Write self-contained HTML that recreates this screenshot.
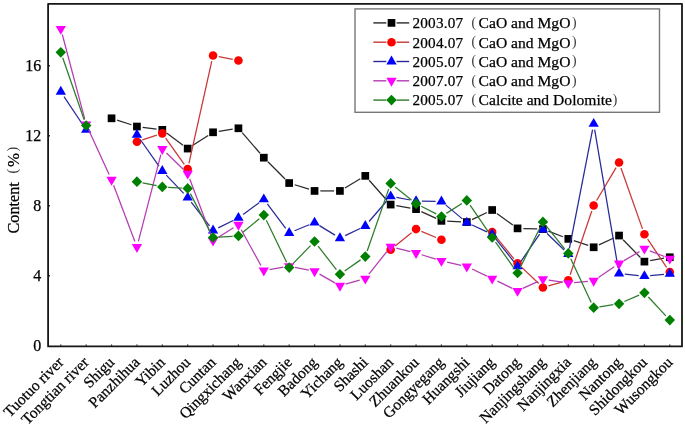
<!DOCTYPE html>
<html><head><meta charset="utf-8"><style>
html,body{margin:0;padding:0;background:#fff;}
body{width:685px;height:427px;overflow:hidden;}
svg{display:block;will-change:transform;}
text{font-family:"Liberation Serif",serif;fill:#000;stroke:#000;stroke-width:0.25px;}
text.p{stroke:none;fill:#333;}
</style></head><body>
<svg width="685" height="427" viewBox="0 0 685 427">
<rect x="0" y="0" width="685" height="427" fill="#fff"/>
<g font-size="16">
<text x="41.2" y="350.70" text-anchor="end">0</text>
<text x="41.2" y="280.70" text-anchor="end">4</text>
<text x="41.2" y="210.70" text-anchor="end">8</text>
<text x="41.2" y="140.70" text-anchor="end">12</text>
<text x="41.2" y="70.70" text-anchor="end">16</text>
</g>
<g transform="translate(19.3,233.5) rotate(-90)"><text x="0" y="0" font-size="16.2">Content</text><text x="59.9" y="-2.4" font-size="14" class="p">(</text><text x="66.6" y="0" font-size="16.8">%</text><text x="81.9" y="-2.4" font-size="14" class="p">)</text></g>
<g font-size="15.5">
<text transform="translate(64.40,363.2) rotate(-45)" text-anchor="end">Tuotuo river</text>
<text transform="translate(89.77,363.2) rotate(-45)" text-anchor="end">Tongtian river</text>
<text transform="translate(115.15,363.2) rotate(-45)" text-anchor="end">Shigu</text>
<text transform="translate(140.53,363.2) rotate(-45)" text-anchor="end">Panzhihua</text>
<text transform="translate(165.90,363.2) rotate(-45)" text-anchor="end">Yibin</text>
<text transform="translate(191.28,363.2) rotate(-45)" text-anchor="end">Luzhou</text>
<text transform="translate(216.65,363.2) rotate(-45)" text-anchor="end">Cuntan</text>
<text transform="translate(242.03,363.2) rotate(-45)" text-anchor="end">Qingxichang</text>
<text transform="translate(267.40,363.2) rotate(-45)" text-anchor="end">Wanxian</text>
<text transform="translate(292.78,363.2) rotate(-45)" text-anchor="end">Fengjie</text>
<text transform="translate(318.15,363.2) rotate(-45)" text-anchor="end">Badong</text>
<text transform="translate(343.53,363.2) rotate(-45)" text-anchor="end">Yichang</text>
<text transform="translate(368.90,363.2) rotate(-45)" text-anchor="end">Shashi</text>
<text transform="translate(394.28,363.2) rotate(-45)" text-anchor="end">Luoshan</text>
<text transform="translate(419.65,363.2) rotate(-45)" text-anchor="end">Zhuankou</text>
<text transform="translate(445.03,363.2) rotate(-45)" text-anchor="end">Gongyegang</text>
<text transform="translate(470.40,363.2) rotate(-45)" text-anchor="end">Huangshi</text>
<text transform="translate(495.78,363.2) rotate(-45)" text-anchor="end">Jiujiang</text>
<text transform="translate(521.15,363.2) rotate(-45)" text-anchor="end">Datong</text>
<text transform="translate(546.52,363.2) rotate(-45)" text-anchor="end">Nanjingshang</text>
<text transform="translate(571.90,363.2) rotate(-45)" text-anchor="end">Nanjingxia</text>
<text transform="translate(597.27,363.2) rotate(-45)" text-anchor="end">Zhenjiang</text>
<text transform="translate(622.65,363.2) rotate(-45)" text-anchor="end">Nantong</text>
<text transform="translate(648.02,363.2) rotate(-45)" text-anchor="end">Shidongkou</text>
<text transform="translate(673.40,363.2) rotate(-45)" text-anchor="end">Wusongkou</text>
</g>
<g>
<line x1="117.07" y1="120.09" x2="131.41" y2="124.74" stroke="#2a2a2a" stroke-width="1.25"/>
<line x1="142.68" y1="127.28" x2="156.55" y2="129.10" stroke="#2a2a2a" stroke-width="1.25"/>
<line x1="166.97" y1="133.29" x2="183.01" y2="145.13" stroke="#2a2a2a" stroke-width="1.25"/>
<line x1="192.56" y1="145.44" x2="208.17" y2="135.43" stroke="#2a2a2a" stroke-width="1.25"/>
<line x1="218.78" y1="131.39" x2="232.70" y2="129.18" stroke="#2a2a2a" stroke-width="1.25"/>
<line x1="242.21" y1="132.67" x2="260.01" y2="153.28" stroke="#2a2a2a" stroke-width="1.25"/>
<line x1="267.90" y1="161.78" x2="285.07" y2="178.95" stroke="#2a2a2a" stroke-width="1.25"/>
<line x1="294.71" y1="184.77" x2="309.01" y2="189.21" stroke="#2a2a2a" stroke-width="1.25"/>
<line x1="320.35" y1="190.93" x2="334.12" y2="190.93" stroke="#2a2a2a" stroke-width="1.25"/>
<line x1="344.91" y1="187.97" x2="360.31" y2="178.83" stroke="#2a2a2a" stroke-width="1.25"/>
<line x1="369.14" y1="180.22" x2="386.83" y2="200.23" stroke="#2a2a2a" stroke-width="1.25"/>
<line x1="396.38" y1="205.60" x2="410.34" y2="208.10" stroke="#2a2a2a" stroke-width="1.25"/>
<line x1="421.32" y1="211.56" x2="436.16" y2="218.42" stroke="#2a2a2a" stroke-width="1.25"/>
<line x1="447.22" y1="221.13" x2="461.01" y2="221.80" stroke="#2a2a2a" stroke-width="1.25"/>
<line x1="472.04" y1="219.58" x2="486.94" y2="212.49" stroke="#2a2a2a" stroke-width="1.25"/>
<line x1="496.87" y1="213.40" x2="512.85" y2="224.97" stroke="#2a2a2a" stroke-width="1.25"/>
<line x1="523.35" y1="228.53" x2="537.13" y2="228.92" stroke="#2a2a2a" stroke-width="1.25"/>
<line x1="548.34" y1="231.16" x2="562.89" y2="236.79" stroke="#2a2a2a" stroke-width="1.25"/>
<line x1="573.81" y1="240.70" x2="588.17" y2="245.45" stroke="#2a2a2a" stroke-width="1.25"/>
<line x1="598.94" y1="244.84" x2="613.78" y2="237.98" stroke="#2a2a2a" stroke-width="1.25"/>
<line x1="623.10" y1="239.71" x2="640.38" y2="257.47" stroke="#2a2a2a" stroke-width="1.25"/>
<line x1="650.14" y1="260.64" x2="664.08" y2="258.24" stroke="#2a2a2a" stroke-width="1.25"/>
<rect x="107.70" y="114.45" width="7.7" height="7.7" fill="#000000"/>
<rect x="133.08" y="122.68" width="7.7" height="7.7" fill="#000000"/>
<rect x="158.45" y="126.00" width="7.7" height="7.7" fill="#000000"/>
<rect x="183.83" y="144.73" width="7.7" height="7.7" fill="#000000"/>
<rect x="209.20" y="128.45" width="7.7" height="7.7" fill="#000000"/>
<rect x="234.58" y="124.43" width="7.7" height="7.7" fill="#000000"/>
<rect x="259.95" y="153.83" width="7.7" height="7.7" fill="#000000"/>
<rect x="285.32" y="179.20" width="7.7" height="7.7" fill="#000000"/>
<rect x="310.70" y="187.08" width="7.7" height="7.7" fill="#000000"/>
<rect x="336.07" y="187.08" width="7.7" height="7.7" fill="#000000"/>
<rect x="361.45" y="172.03" width="7.7" height="7.7" fill="#000000"/>
<rect x="386.82" y="200.73" width="7.7" height="7.7" fill="#000000"/>
<rect x="412.20" y="205.28" width="7.7" height="7.7" fill="#000000"/>
<rect x="437.57" y="217.00" width="7.7" height="7.7" fill="#000000"/>
<rect x="462.95" y="218.22" width="7.7" height="7.7" fill="#000000"/>
<rect x="488.32" y="206.15" width="7.7" height="7.7" fill="#000000"/>
<rect x="513.70" y="224.53" width="7.7" height="7.7" fill="#000000"/>
<rect x="539.07" y="225.23" width="7.7" height="7.7" fill="#000000"/>
<rect x="564.45" y="235.03" width="7.7" height="7.7" fill="#000000"/>
<rect x="589.82" y="243.43" width="7.7" height="7.7" fill="#000000"/>
<rect x="615.20" y="231.70" width="7.7" height="7.7" fill="#000000"/>
<rect x="640.57" y="257.77" width="7.7" height="7.7" fill="#000000"/>
<rect x="665.95" y="253.40" width="7.7" height="7.7" fill="#000000"/>
<line x1="142.43" y1="139.93" x2="156.79" y2="135.17" stroke="#c83636" stroke-width="1.25"/>
<line x1="165.66" y1="138.08" x2="184.31" y2="164.32" stroke="#c83636" stroke-width="1.25"/>
<line x1="188.94" y1="163.39" x2="211.79" y2="61.14" stroke="#c83636" stroke-width="1.25"/>
<line x1="218.74" y1="56.61" x2="232.74" y2="59.41" stroke="#c83636" stroke-width="1.25"/>
<line x1="395.17" y1="246.06" x2="411.55" y2="232.74" stroke="#c83636" stroke-width="1.25"/>
<line x1="421.40" y1="231.32" x2="436.08" y2="237.50" stroke="#c83636" stroke-width="1.25"/>
<line x1="495.83" y1="236.56" x2="513.90" y2="258.87" stroke="#c83636" stroke-width="1.25"/>
<line x1="521.75" y1="267.37" x2="538.72" y2="283.53" stroke="#c83636" stroke-width="1.25"/>
<line x1="548.50" y1="285.91" x2="562.73" y2="281.79" stroke="#c83636" stroke-width="1.25"/>
<line x1="570.16" y1="274.68" x2="591.81" y2="210.94" stroke="#c83636" stroke-width="1.25"/>
<line x1="596.63" y1="200.46" x2="616.10" y2="167.57" stroke="#c83636" stroke-width="1.25"/>
<line x1="620.98" y1="168.04" x2="642.49" y2="228.86" stroke="#c83636" stroke-width="1.25"/>
<line x1="647.66" y1="239.14" x2="666.57" y2="267.31" stroke="#c83636" stroke-width="1.25"/>
<circle cx="136.93" cy="141.75" r="4.3" fill="#ff0000"/>
<circle cx="162.30" cy="133.35" r="4.3" fill="#ff0000"/>
<circle cx="187.68" cy="169.05" r="4.3" fill="#ff0000"/>
<circle cx="213.05" cy="55.48" r="4.3" fill="#ff0000"/>
<circle cx="238.43" cy="60.55" r="4.3" fill="#ff0000"/>
<circle cx="390.68" cy="249.73" r="4.3" fill="#ff0000"/>
<circle cx="416.05" cy="229.08" r="4.3" fill="#ff0000"/>
<circle cx="441.43" cy="239.75" r="4.3" fill="#ff0000"/>
<circle cx="492.18" cy="232.05" r="4.3" fill="#ff0000"/>
<circle cx="517.55" cy="263.38" r="4.3" fill="#ff0000"/>
<circle cx="542.92" cy="287.53" r="4.3" fill="#ff0000"/>
<circle cx="568.30" cy="280.18" r="4.3" fill="#ff0000"/>
<circle cx="593.67" cy="205.45" r="4.3" fill="#ff0000"/>
<circle cx="619.05" cy="162.57" r="4.3" fill="#ff0000"/>
<circle cx="644.42" cy="234.32" r="4.3" fill="#ff0000"/>
<circle cx="669.80" cy="272.12" r="4.3" fill="#ff0000"/>
<line x1="64.01" y1="96.53" x2="82.96" y2="125.02" stroke="#28289c" stroke-width="1.25"/>
<line x1="140.25" y1="139.50" x2="158.97" y2="166.22" stroke="#28289c" stroke-width="1.25"/>
<line x1="166.30" y1="175.17" x2="183.67" y2="193.38" stroke="#28289c" stroke-width="1.25"/>
<line x1="191.22" y1="202.17" x2="209.51" y2="225.88" stroke="#28289c" stroke-width="1.25"/>
<line x1="218.24" y1="227.90" x2="233.23" y2="220.45" stroke="#28289c" stroke-width="1.25"/>
<line x1="243.11" y1="214.45" x2="259.12" y2="202.75" stroke="#28289c" stroke-width="1.25"/>
<line x1="267.30" y1="203.95" x2="285.68" y2="228.30" stroke="#28289c" stroke-width="1.25"/>
<line x1="294.55" y1="230.74" x2="309.18" y2="224.79" stroke="#28289c" stroke-width="1.25"/>
<line x1="319.49" y1="225.63" x2="334.98" y2="235.14" stroke="#28289c" stroke-width="1.25"/>
<line x1="345.15" y1="235.65" x2="360.08" y2="228.45" stroke="#28289c" stroke-width="1.25"/>
<line x1="369.08" y1="221.52" x2="386.90" y2="200.75" stroke="#28289c" stroke-width="1.25"/>
<line x1="396.38" y1="197.41" x2="410.35" y2="200.01" stroke="#28289c" stroke-width="1.25"/>
<line x1="421.85" y1="201.15" x2="435.63" y2="201.35" stroke="#28289c" stroke-width="1.25"/>
<line x1="445.88" y1="205.14" x2="462.35" y2="218.88" stroke="#28289c" stroke-width="1.25"/>
<line x1="472.07" y1="225.03" x2="486.91" y2="231.89" stroke="#28289c" stroke-width="1.25"/>
<line x1="495.78" y1="238.87" x2="513.95" y2="261.80" stroke="#28289c" stroke-width="1.25"/>
<line x1="520.83" y1="261.57" x2="539.64" y2="234.21" stroke="#28289c" stroke-width="1.25"/>
<line x1="547.08" y1="233.47" x2="564.14" y2="250.06" stroke="#28289c" stroke-width="1.25"/>
<line x1="569.41" y1="248.41" x2="592.57" y2="129.59" stroke="#28289c" stroke-width="1.25"/>
<line x1="594.64" y1="129.62" x2="618.08" y2="267.81" stroke="#28289c" stroke-width="1.25"/>
<line x1="624.82" y1="274.12" x2="638.66" y2="275.55" stroke="#28289c" stroke-width="1.25"/>
<line x1="650.20" y1="275.63" x2="664.02" y2="274.39" stroke="#28289c" stroke-width="1.25"/>
<path d="M60.80 85.77L65.95 94.67L55.65 94.67Z" fill="#0000ff"/>
<path d="M86.17 123.92L91.33 132.82L81.02 132.82Z" fill="#0000ff"/>
<path d="M136.93 128.82L142.08 137.72L131.78 137.72Z" fill="#0000ff"/>
<path d="M162.30 165.04L167.45 173.94L157.15 173.94Z" fill="#0000ff"/>
<path d="M187.68 191.64L192.83 200.54L182.53 200.54Z" fill="#0000ff"/>
<path d="M213.05 224.54L218.20 233.44L207.90 233.44Z" fill="#0000ff"/>
<path d="M238.43 211.94L243.58 220.84L233.28 220.84Z" fill="#0000ff"/>
<path d="M263.80 193.39L268.95 202.29L258.65 202.29Z" fill="#0000ff"/>
<path d="M289.18 226.99L294.32 235.89L284.03 235.89Z" fill="#0000ff"/>
<path d="M314.55 216.67L319.70 225.57L309.40 225.57Z" fill="#0000ff"/>
<path d="M339.93 232.24L345.07 241.14L334.78 241.14Z" fill="#0000ff"/>
<path d="M365.30 219.99L370.45 228.89L360.15 228.89Z" fill="#0000ff"/>
<path d="M390.68 190.42L395.82 199.32L385.53 199.32Z" fill="#0000ff"/>
<path d="M416.05 195.14L421.20 204.04L410.90 204.04Z" fill="#0000ff"/>
<path d="M441.43 195.49L446.57 204.39L436.28 204.39Z" fill="#0000ff"/>
<path d="M466.80 216.67L471.95 225.57L461.65 225.57Z" fill="#0000ff"/>
<path d="M492.18 228.39L497.32 237.29L487.03 237.29Z" fill="#0000ff"/>
<path d="M517.55 260.42L522.70 269.32L512.40 269.32Z" fill="#0000ff"/>
<path d="M542.92 223.49L548.07 232.39L537.77 232.39Z" fill="#0000ff"/>
<path d="M568.30 248.17L573.45 257.07L563.15 257.07Z" fill="#0000ff"/>
<path d="M593.67 117.97L598.82 126.87L588.52 126.87Z" fill="#0000ff"/>
<path d="M619.05 267.59L624.20 276.49L613.90 276.49Z" fill="#0000ff"/>
<path d="M644.42 270.22L649.57 279.12L639.27 279.12Z" fill="#0000ff"/>
<path d="M669.80 267.94L674.95 276.84L664.65 276.84Z" fill="#0000ff"/>
<line x1="62.29" y1="34.48" x2="84.69" y2="118.82" stroke="#b43cb4" stroke-width="1.25"/>
<line x1="88.59" y1="129.70" x2="109.13" y2="174.52" stroke="#b43cb4" stroke-width="1.25"/>
<line x1="113.60" y1="185.22" x2="134.88" y2="241.57" stroke="#b43cb4" stroke-width="1.25"/>
<line x1="138.38" y1="241.38" x2="160.85" y2="154.61" stroke="#b43cb4" stroke-width="1.25"/>
<line x1="166.46" y1="153.03" x2="183.51" y2="169.56" stroke="#b43cb4" stroke-width="1.25"/>
<line x1="189.73" y1="179.02" x2="211.00" y2="235.20" stroke="#b43cb4" stroke-width="1.25"/>
<line x1="217.96" y1="237.54" x2="233.51" y2="227.78" stroke="#b43cb4" stroke-width="1.25"/>
<line x1="241.23" y1="229.77" x2="260.99" y2="265.48" stroke="#b43cb4" stroke-width="1.25"/>
<line x1="269.52" y1="269.56" x2="283.46" y2="267.16" stroke="#b43cb4" stroke-width="1.25"/>
<line x1="294.86" y1="267.31" x2="308.86" y2="270.11" stroke="#b43cb4" stroke-width="1.25"/>
<line x1="319.58" y1="274.13" x2="334.89" y2="282.89" stroke="#b43cb4" stroke-width="1.25"/>
<line x1="345.51" y1="284.20" x2="359.72" y2="280.18" stroke="#b43cb4" stroke-width="1.25"/>
<line x1="368.91" y1="274.06" x2="387.06" y2="251.29" stroke="#b43cb4" stroke-width="1.25"/>
<line x1="396.30" y1="248.15" x2="410.42" y2="251.65" stroke="#b43cb4" stroke-width="1.25"/>
<line x1="421.59" y1="254.77" x2="435.89" y2="259.21" stroke="#b43cb4" stroke-width="1.25"/>
<line x1="447.09" y1="262.17" x2="461.14" y2="265.28" stroke="#b43cb4" stroke-width="1.25"/>
<line x1="472.04" y1="269.02" x2="486.94" y2="276.11" stroke="#b43cb4" stroke-width="1.25"/>
<line x1="497.40" y1="281.12" x2="512.33" y2="288.33" stroke="#b43cb4" stroke-width="1.25"/>
<line x1="522.82" y1="288.42" x2="537.66" y2="281.56" stroke="#b43cb4" stroke-width="1.25"/>
<line x1="548.65" y1="280.03" x2="562.57" y2="282.24" stroke="#b43cb4" stroke-width="1.25"/>
<line x1="574.07" y1="282.59" x2="587.90" y2="281.26" stroke="#b43cb4" stroke-width="1.25"/>
<line x1="598.48" y1="277.45" x2="614.24" y2="266.80" stroke="#b43cb4" stroke-width="1.25"/>
<line x1="624.05" y1="260.62" x2="639.42" y2="251.61" stroke="#b43cb4" stroke-width="1.25"/>
<line x1="649.82" y1="250.80" x2="664.40" y2="256.53" stroke="#b43cb4" stroke-width="1.25"/>
<path d="M55.65 25.91L65.95 25.91L60.80 34.81Z" fill="#ff00ff"/>
<path d="M81.02 121.46L91.33 121.46L86.17 130.36Z" fill="#ff00ff"/>
<path d="M106.40 176.83L116.70 176.83L111.55 185.73Z" fill="#ff00ff"/>
<path d="M131.78 244.03L142.08 244.03L136.93 252.93Z" fill="#ff00ff"/>
<path d="M157.15 146.03L167.45 146.03L162.30 154.93Z" fill="#ff00ff"/>
<path d="M182.53 170.63L192.83 170.63L187.68 179.53Z" fill="#ff00ff"/>
<path d="M207.90 237.66L218.20 237.66L213.05 246.56Z" fill="#ff00ff"/>
<path d="M233.28 221.73L243.58 221.73L238.43 230.63Z" fill="#ff00ff"/>
<path d="M258.65 267.58L268.95 267.58L263.80 276.48Z" fill="#ff00ff"/>
<path d="M284.03 263.21L294.32 263.21L289.18 272.11Z" fill="#ff00ff"/>
<path d="M309.40 268.28L319.70 268.28L314.55 277.18Z" fill="#ff00ff"/>
<path d="M334.78 282.81L345.07 282.81L339.93 291.71Z" fill="#ff00ff"/>
<path d="M360.15 275.63L370.45 275.63L365.30 284.53Z" fill="#ff00ff"/>
<path d="M385.53 243.78L395.82 243.78L390.68 252.68Z" fill="#ff00ff"/>
<path d="M410.90 250.08L421.20 250.08L416.05 258.98Z" fill="#ff00ff"/>
<path d="M436.28 257.96L446.57 257.96L441.43 266.86Z" fill="#ff00ff"/>
<path d="M461.65 263.56L471.95 263.56L466.80 272.46Z" fill="#ff00ff"/>
<path d="M487.03 275.63L497.32 275.63L492.18 284.53Z" fill="#ff00ff"/>
<path d="M512.40 287.88L522.70 287.88L517.55 296.78Z" fill="#ff00ff"/>
<path d="M537.77 276.16L548.07 276.16L542.92 285.06Z" fill="#ff00ff"/>
<path d="M563.15 280.18L573.45 280.18L568.30 289.08Z" fill="#ff00ff"/>
<path d="M588.52 277.73L598.82 277.73L593.67 286.63Z" fill="#ff00ff"/>
<path d="M613.90 260.58L624.20 260.58L619.05 269.48Z" fill="#ff00ff"/>
<path d="M639.27 245.71L649.57 245.71L644.42 254.61Z" fill="#ff00ff"/>
<path d="M664.65 255.68L674.95 255.68L669.80 264.58Z" fill="#ff00ff"/>
<line x1="62.70" y1="57.80" x2="84.27" y2="120.00" stroke="#2c7c2c" stroke-width="1.25"/>
<line x1="142.60" y1="182.83" x2="156.62" y2="185.72" stroke="#2c7c2c" stroke-width="1.25"/>
<line x1="168.09" y1="187.26" x2="181.89" y2="188.12" stroke="#2c7c2c" stroke-width="1.25"/>
<line x1="190.34" y1="193.63" x2="210.38" y2="232.32" stroke="#2c7c2c" stroke-width="1.25"/>
<line x1="218.84" y1="237.12" x2="232.64" y2="236.26" stroke="#2c7c2c" stroke-width="1.25"/>
<line x1="242.91" y1="232.22" x2="259.32" y2="218.75" stroke="#2c7c2c" stroke-width="1.25"/>
<line x1="266.32" y1="220.30" x2="286.65" y2="262.35" stroke="#2c7c2c" stroke-width="1.25"/>
<line x1="293.22" y1="263.42" x2="310.50" y2="245.66" stroke="#2c7c2c" stroke-width="1.25"/>
<line x1="318.10" y1="246.08" x2="336.37" y2="269.64" stroke="#2c7c2c" stroke-width="1.25"/>
<line x1="344.68" y1="270.91" x2="360.54" y2="259.87" stroke="#2c7c2c" stroke-width="1.25"/>
<line x1="367.20" y1="251.07" x2="388.77" y2="188.88" stroke="#2c7c2c" stroke-width="1.25"/>
<line x1="395.20" y1="187.02" x2="411.52" y2="200.08" stroke="#2c7c2c" stroke-width="1.25"/>
<line x1="421.23" y1="206.31" x2="436.24" y2="213.87" stroke="#2c7c2c" stroke-width="1.25"/>
<line x1="446.32" y1="213.37" x2="461.90" y2="203.48" stroke="#2c7c2c" stroke-width="1.25"/>
<line x1="470.07" y1="205.16" x2="488.90" y2="232.69" stroke="#2c7c2c" stroke-width="1.25"/>
<line x1="495.55" y1="242.19" x2="514.18" y2="268.28" stroke="#2c7c2c" stroke-width="1.25"/>
<line x1="520.13" y1="267.81" x2="540.35" y2="227.09" stroke="#2c7c2c" stroke-width="1.25"/>
<line x1="546.56" y1="226.42" x2="564.66" y2="248.88" stroke="#2c7c2c" stroke-width="1.25"/>
<line x1="570.76" y1="258.65" x2="591.22" y2="302.40" stroke="#2c7c2c" stroke-width="1.25"/>
<line x1="599.41" y1="306.78" x2="613.32" y2="304.67" stroke="#2c7c2c" stroke-width="1.25"/>
<line x1="624.37" y1="301.49" x2="639.11" y2="295.09" stroke="#2c7c2c" stroke-width="1.25"/>
<line x1="648.37" y1="297.02" x2="665.85" y2="315.83" stroke="#2c7c2c" stroke-width="1.25"/>
<path d="M60.80 46.98L66.05 52.33L60.80 57.68L55.55 52.33Z" fill="#008000"/>
<path d="M86.17 120.13L91.42 125.48L86.17 130.83L80.92 125.48Z" fill="#008000"/>
<path d="M136.93 176.30L142.18 181.65L136.93 187.00L131.68 181.65Z" fill="#008000"/>
<path d="M162.30 181.55L167.55 186.90L162.30 192.25L157.05 186.90Z" fill="#008000"/>
<path d="M187.68 183.12L192.93 188.47L187.68 193.82L182.43 188.47Z" fill="#008000"/>
<path d="M213.05 232.13L218.30 237.48L213.05 242.83L207.80 237.48Z" fill="#008000"/>
<path d="M238.43 230.55L243.68 235.90L238.43 241.25L233.18 235.90Z" fill="#008000"/>
<path d="M263.80 209.73L269.05 215.08L263.80 220.43L258.55 215.08Z" fill="#008000"/>
<path d="M289.18 262.23L294.43 267.58L289.18 272.93L283.93 267.58Z" fill="#008000"/>
<path d="M314.55 236.15L319.80 241.50L314.55 246.85L309.30 241.50Z" fill="#008000"/>
<path d="M339.93 268.88L345.18 274.23L339.93 279.58L334.68 274.23Z" fill="#008000"/>
<path d="M365.30 251.20L370.55 256.55L365.30 261.90L360.05 256.55Z" fill="#008000"/>
<path d="M390.68 178.05L395.93 183.40L390.68 188.75L385.43 183.40Z" fill="#008000"/>
<path d="M416.05 198.35L421.30 203.70L416.05 209.05L410.80 203.70Z" fill="#008000"/>
<path d="M441.43 211.13L446.68 216.48L441.43 221.83L436.18 216.48Z" fill="#008000"/>
<path d="M466.80 195.03L472.05 200.38L466.80 205.72L461.55 200.38Z" fill="#008000"/>
<path d="M492.18 232.13L497.43 237.48L492.18 242.83L486.93 237.48Z" fill="#008000"/>
<path d="M517.55 267.65L522.80 273.00L517.55 278.35L512.30 273.00Z" fill="#008000"/>
<path d="M542.92 216.55L548.17 221.90L542.92 227.25L537.67 221.90Z" fill="#008000"/>
<path d="M568.30 248.05L573.55 253.40L568.30 258.75L563.05 253.40Z" fill="#008000"/>
<path d="M593.67 302.30L598.92 307.65L593.67 313.00L588.42 307.65Z" fill="#008000"/>
<path d="M619.05 298.45L624.30 303.80L619.05 309.15L613.80 303.80Z" fill="#008000"/>
<path d="M644.42 287.43L649.67 292.78L644.42 298.13L639.17 292.78Z" fill="#008000"/>
<path d="M669.80 314.72L675.05 320.07L669.80 325.43L664.55 320.07Z" fill="#008000"/>
</g>
<line x1="60.80" y1="345.8" x2="60.80" y2="344.5" stroke="#161616" stroke-width="1.2"/>
<line x1="86.17" y1="345.8" x2="86.17" y2="344.5" stroke="#161616" stroke-width="1.2"/>
<line x1="111.55" y1="345.8" x2="111.55" y2="344.5" stroke="#161616" stroke-width="1.2"/>
<line x1="136.93" y1="345.8" x2="136.93" y2="344.5" stroke="#161616" stroke-width="1.2"/>
<line x1="162.30" y1="345.8" x2="162.30" y2="344.5" stroke="#161616" stroke-width="1.2"/>
<line x1="187.68" y1="345.8" x2="187.68" y2="344.5" stroke="#161616" stroke-width="1.2"/>
<line x1="213.05" y1="345.8" x2="213.05" y2="344.5" stroke="#161616" stroke-width="1.2"/>
<line x1="238.43" y1="345.8" x2="238.43" y2="344.5" stroke="#161616" stroke-width="1.2"/>
<line x1="263.80" y1="345.8" x2="263.80" y2="344.5" stroke="#161616" stroke-width="1.2"/>
<line x1="289.18" y1="345.8" x2="289.18" y2="344.5" stroke="#161616" stroke-width="1.2"/>
<line x1="314.55" y1="345.8" x2="314.55" y2="344.5" stroke="#161616" stroke-width="1.2"/>
<line x1="339.93" y1="345.8" x2="339.93" y2="344.5" stroke="#161616" stroke-width="1.2"/>
<line x1="365.30" y1="345.8" x2="365.30" y2="344.5" stroke="#161616" stroke-width="1.2"/>
<line x1="390.68" y1="345.8" x2="390.68" y2="344.5" stroke="#161616" stroke-width="1.2"/>
<line x1="416.05" y1="345.8" x2="416.05" y2="344.5" stroke="#161616" stroke-width="1.2"/>
<line x1="441.43" y1="345.8" x2="441.43" y2="344.5" stroke="#161616" stroke-width="1.2"/>
<line x1="466.80" y1="345.8" x2="466.80" y2="344.5" stroke="#161616" stroke-width="1.2"/>
<line x1="492.18" y1="345.8" x2="492.18" y2="344.5" stroke="#161616" stroke-width="1.2"/>
<line x1="517.55" y1="345.8" x2="517.55" y2="344.5" stroke="#161616" stroke-width="1.2"/>
<line x1="542.92" y1="345.8" x2="542.92" y2="344.5" stroke="#161616" stroke-width="1.2"/>
<line x1="568.30" y1="345.8" x2="568.30" y2="344.5" stroke="#161616" stroke-width="1.2"/>
<line x1="593.67" y1="345.8" x2="593.67" y2="344.5" stroke="#161616" stroke-width="1.2"/>
<line x1="619.05" y1="345.8" x2="619.05" y2="344.5" stroke="#161616" stroke-width="1.2"/>
<line x1="644.42" y1="345.8" x2="644.42" y2="344.5" stroke="#161616" stroke-width="1.2"/>
<line x1="669.80" y1="345.8" x2="669.80" y2="344.5" stroke="#161616" stroke-width="1.2"/>
<line x1="48.8" y1="275.80" x2="49.8" y2="275.80" stroke="#000" stroke-width="1.4"/>
<line x1="48.8" y1="205.80" x2="49.8" y2="205.80" stroke="#000" stroke-width="1.4"/>
<line x1="48.8" y1="135.80" x2="49.8" y2="135.80" stroke="#000" stroke-width="1.4"/>
<line x1="48.8" y1="65.80" x2="49.8" y2="65.80" stroke="#000" stroke-width="1.4"/>
<path d="M48.1 3.8H682V346.4H48.1Z" fill="none" stroke="#161616" stroke-width="1.8" stroke-linejoin="round"/>
<rect x="355" y="8.9" width="304.5" height="103.4" fill="#fff" stroke="#777" stroke-width="1.4"/>
<g font-size="15.2">
<line x1="373.3" y1="22.90" x2="386.3" y2="22.90" stroke="#2a2a2a" stroke-width="1.4"/>
<line x1="396.6" y1="22.90" x2="409.2" y2="22.90" stroke="#2a2a2a" stroke-width="1.4"/>
<rect x="387.65" y="19.05" width="7.7" height="7.7" fill="#000000"/>
<text y="28.20" x="412.5" letter-spacing="0.2">2003.07</text>
<text y="26.60" x="471.6" font-size="13.6" class="p">(</text>
<text y="28.20" x="478.6" font-size="15.6">CaO and MgO</text>
<text y="26.60" x="571.9" font-size="13.6" class="p">)</text>
<line x1="373.3" y1="42.20" x2="386.3" y2="42.20" stroke="#c83636" stroke-width="1.4"/>
<line x1="396.6" y1="42.20" x2="409.2" y2="42.20" stroke="#c83636" stroke-width="1.4"/>
<circle cx="391.50" cy="42.20" r="4.3" fill="#ff0000"/>
<text y="47.50" x="412.5" letter-spacing="0.2">2004.07</text>
<text y="45.90" x="471.6" font-size="13.6" class="p">(</text>
<text y="47.50" x="478.6" font-size="15.6">CaO and MgO</text>
<text y="45.90" x="571.9" font-size="13.6" class="p">)</text>
<line x1="373.3" y1="61.50" x2="386.3" y2="61.50" stroke="#28289c" stroke-width="1.4"/>
<line x1="396.6" y1="61.50" x2="409.2" y2="61.50" stroke="#28289c" stroke-width="1.4"/>
<path d="M391.50 55.57L396.65 64.47L386.35 64.47Z" fill="#0000ff"/>
<text y="66.80" x="412.5" letter-spacing="0.2">2005.07</text>
<text y="65.20" x="471.6" font-size="13.6" class="p">(</text>
<text y="66.80" x="478.6" font-size="15.6">CaO and MgO</text>
<text y="65.20" x="571.9" font-size="13.6" class="p">)</text>
<line x1="373.3" y1="80.80" x2="386.3" y2="80.80" stroke="#b43cb4" stroke-width="1.4"/>
<line x1="396.6" y1="80.80" x2="409.2" y2="80.80" stroke="#b43cb4" stroke-width="1.4"/>
<path d="M386.35 77.83L396.65 77.83L391.50 86.73Z" fill="#ff00ff"/>
<text y="86.10" x="412.5" letter-spacing="0.2">2007.07</text>
<text y="84.50" x="471.6" font-size="13.6" class="p">(</text>
<text y="86.10" x="478.6" font-size="15.6">CaO and MgO</text>
<text y="84.50" x="571.9" font-size="13.6" class="p">)</text>
<line x1="373.3" y1="100.10" x2="386.3" y2="100.10" stroke="#2c7c2c" stroke-width="1.4"/>
<line x1="396.6" y1="100.10" x2="409.2" y2="100.10" stroke="#2c7c2c" stroke-width="1.4"/>
<path d="M391.50 94.75L396.75 100.10L391.50 105.45L386.25 100.10Z" fill="#008000"/>
<text y="105.40" x="412.5" letter-spacing="0.2">2005.07</text>
<text y="103.80" x="471.6" font-size="13.6" class="p">(</text>
<text y="105.40" x="478.6" font-size="15.6">Calcite and Dolomite</text>
<text y="103.80" x="612.6999999999999" font-size="13.6" class="p">)</text>
</g>
</svg>
</body></html>
